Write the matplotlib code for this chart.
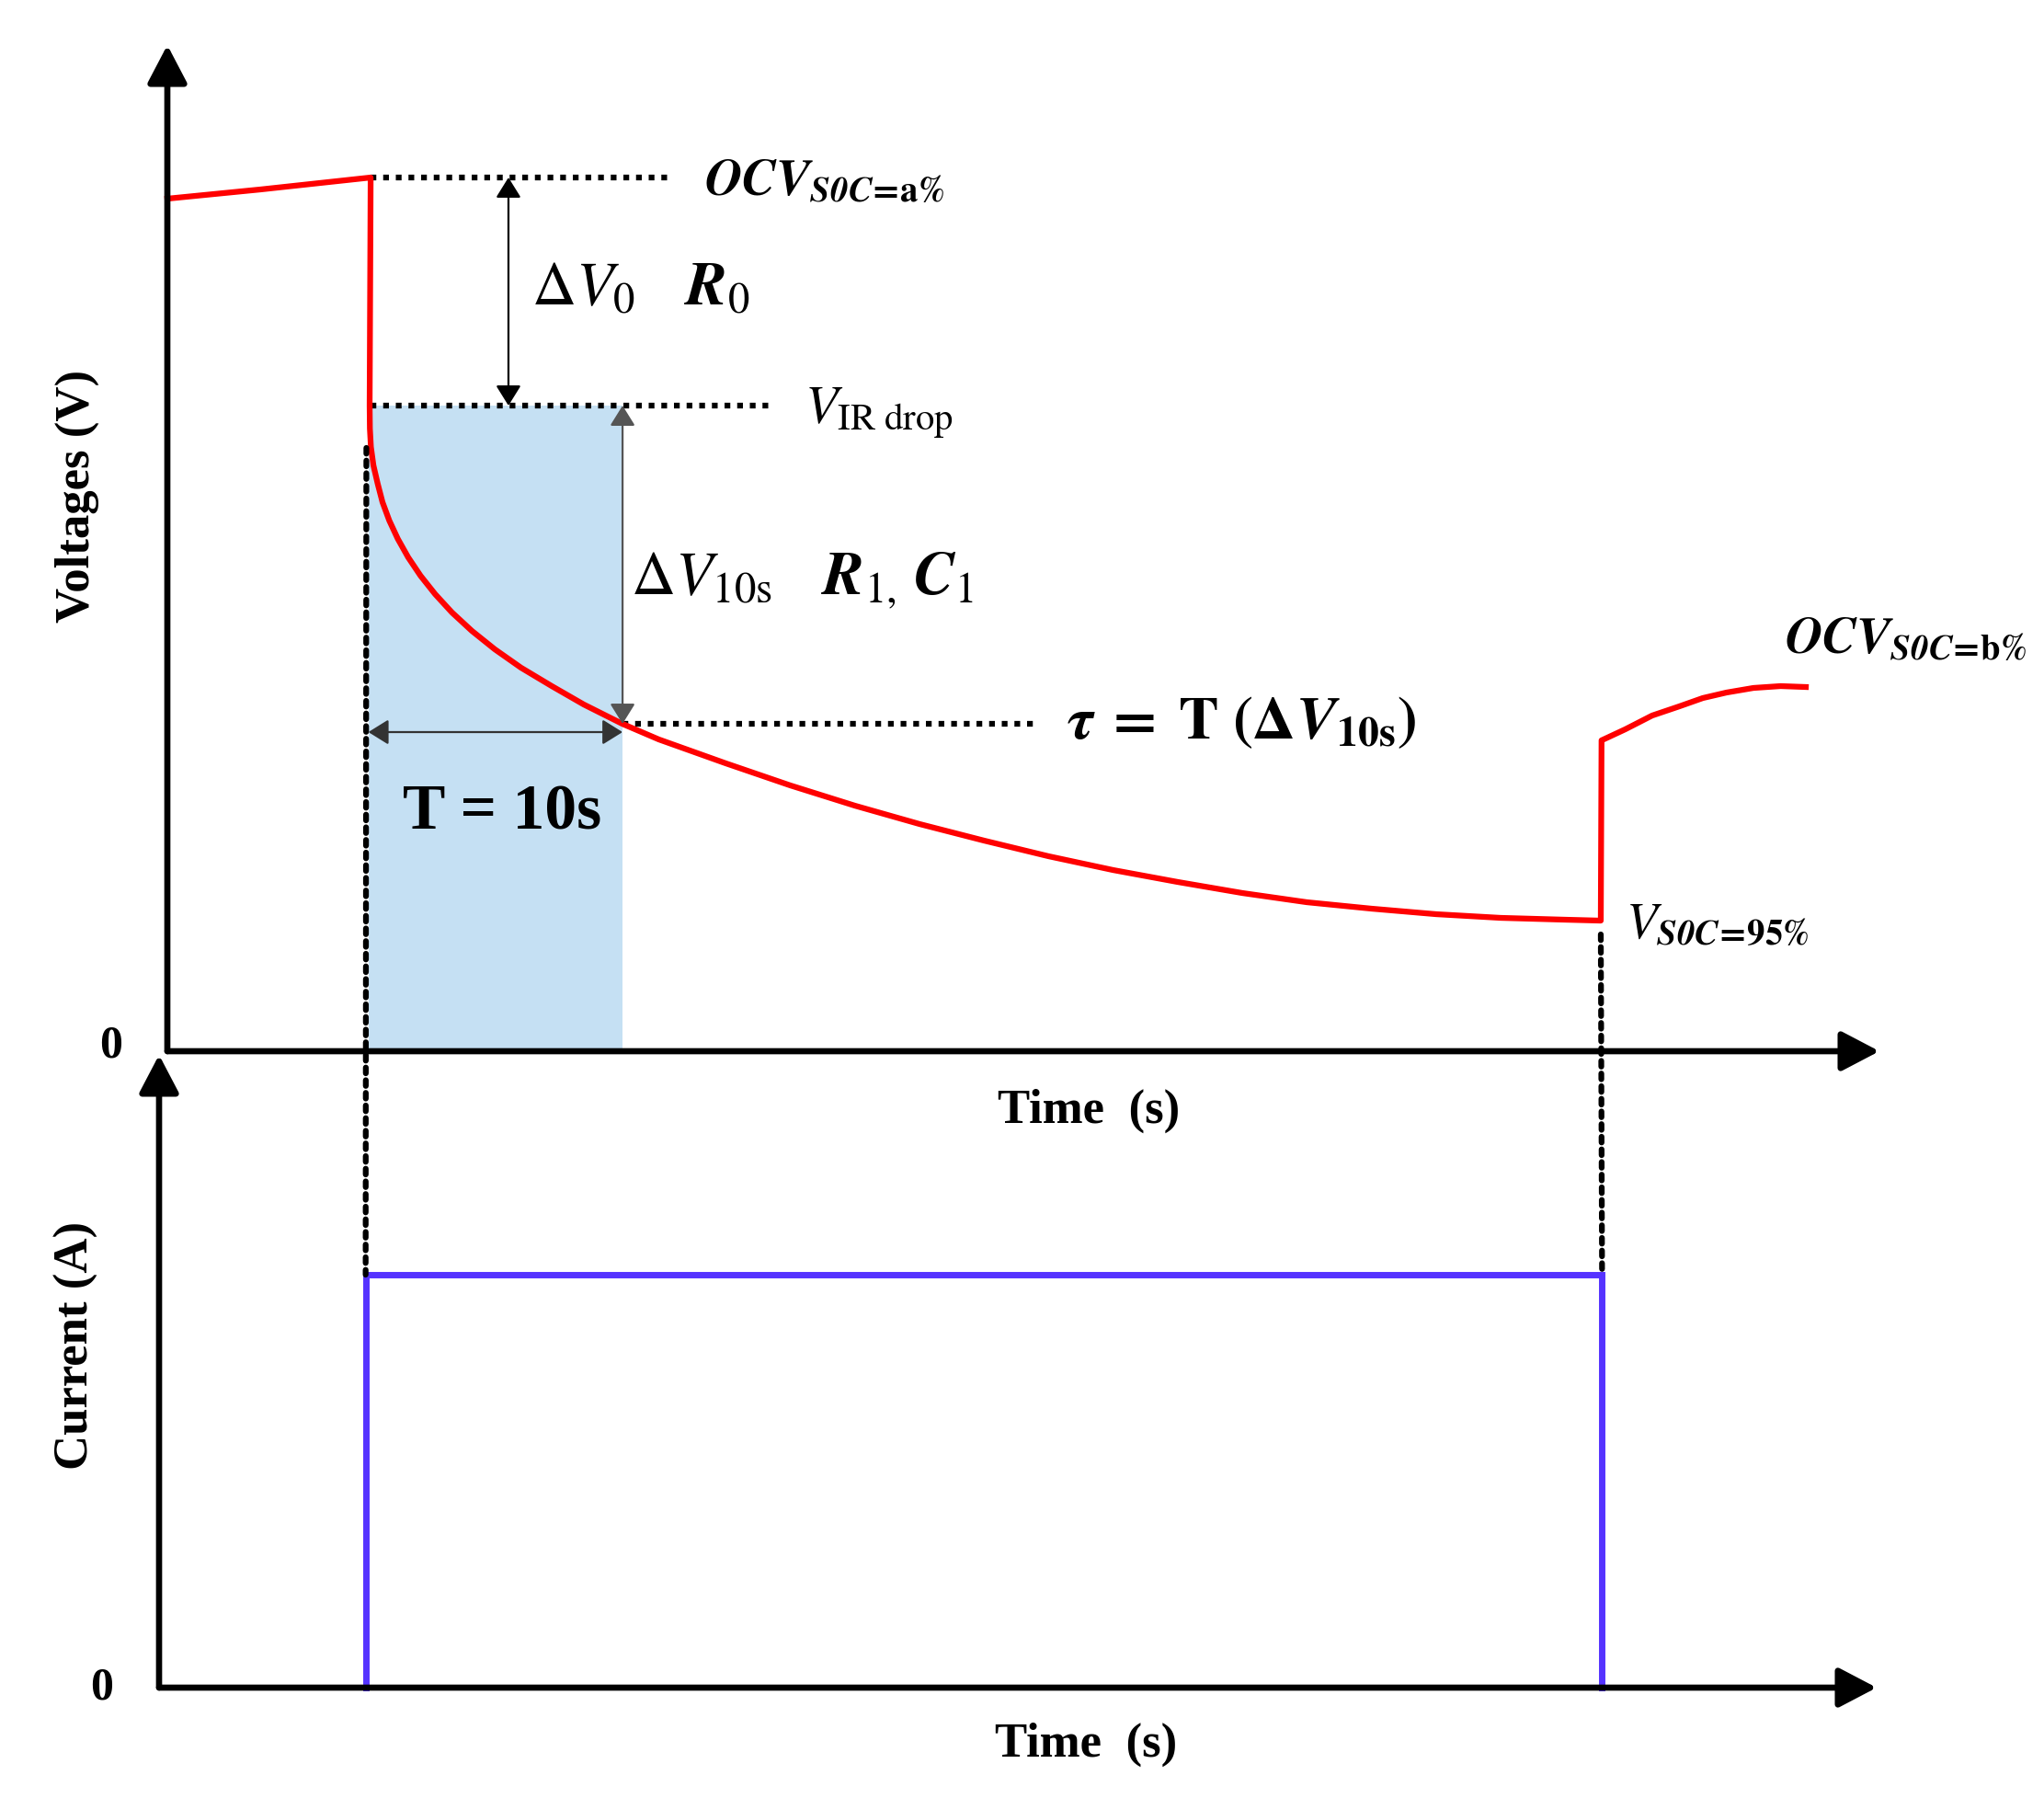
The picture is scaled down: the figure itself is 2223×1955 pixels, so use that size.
import matplotlib.pyplot as plt
from matplotlib.patches import FancyArrowPatch, ConnectionPatch

plt.rcParams['font.family'] = ['Liberation Serif', 'DejaVu Serif']
plt.rcParams['mathtext.fontset'] = 'stix'

# voltage response (time in s, voltage in arbitrary units)
volt_t = [0.0, 3.69, 8.07,
          8.03, 8.04, 8.08, 8.18, 8.35, 8.54, 8.81, 9.15, 9.56, 10.05, 10.63, 11.30,
          12.09, 13.00, 14.04, 15.26, 16.53, 18.06, 19.51, 22.17, 24.73, 27.29, 29.86,
          32.42, 34.98, 37.54, 40.11, 42.67, 45.23, 47.80, 50.36, 52.92, 55.49, 56.90,
          56.93, 57.87, 58.94, 60.02, 60.95, 61.89, 62.96, 64.04, 65.04]
volt_v = [9.27, 9.37, 9.50,
          7.02, 6.77, 6.57, 6.37, 6.17, 5.97, 5.77, 5.57, 5.37, 5.17, 4.97, 4.77,
          4.57, 4.37, 4.17, 3.97, 3.77, 3.56, 3.39, 3.13, 2.89, 2.67, 2.47,
          2.29, 2.12, 1.97, 1.84, 1.72, 1.62, 1.55, 1.49, 1.45, 1.43, 1.42,
          3.38, 3.50, 3.65, 3.75, 3.84, 3.90, 3.95, 3.97, 3.96]

# current pulse
cur_t = [8.2, 8.2, 57.28, 57.28]
cur_i = [0.0, 4.49, 4.49, 0.0]

# key levels / instants
t_on = 8.07
t_10s = 18.07
v_ocv_a = 9.50
v_ir = 7.02
v_10s = 3.56

RED = '#ff0000'
BLUE = '#5533ff'
SHADE = '#c5e0f3'
DOT = (0, (1, 1.2))

fig = plt.figure(figsize=(22.23, 19.56), dpi=100)
ax_v = fig.add_axes([0.08187, 0.41513, 0.83761, 0.55930])
ax_i = fig.add_axes([0.07782, 0.06135, 0.84031, 0.35174])

ax_v.set_xlim(0, 67.96)
ax_v.set_ylim(0, 10.94)
ax_i.set_xlim(0, 68.18)
ax_i.set_ylim(0, 6.88)


def axis_arrows(ax):
    for end in [(1, 0), (0, 1)]:
        ax.add_patch(FancyArrowPatch((0, 0), end, transform=ax.transAxes,
                                     arrowstyle='-|>,head_length=0.42,head_width=0.22',
                                     mutation_scale=60, lw=4.8, color='k',
                                     shrinkA=0, shrinkB=0, clip_on=False, zorder=6))
    ax.axis('off')


axis_arrows(ax_v)
axis_arrows(ax_i)

# shaded 10 s window
ax_v.fill_between([7.98, t_10s], 0, v_ir, color=SHADE, lw=0, zorder=1)

# traces
ax_v.plot(volt_t, volt_v, color=RED, lw=4.5, solid_joinstyle='round', clip_on=False, zorder=4)
ax_i.plot(cur_t, cur_i, color=BLUE, lw=5, solid_joinstyle='miter', clip_on=False, zorder=4)

# dotted guide lines
ax_v.plot([t_on, 20.0], [v_ocv_a, v_ocv_a], color='k', lw=4.5, ls=DOT, zorder=3)
ax_v.plot([t_on, 24.14], [v_ir, v_ir], color='k', lw=4.5, ls=DOT, zorder=3)
ax_v.plot([t_10s, 34.4], [v_10s, v_10s], color='k', lw=4.5, ls=DOT, zorder=3)
for (ta, va), tb in [((7.9, 6.56), 8.2), ((56.9, 1.27), 57.28)]:
    fig.add_artist(ConnectionPatch(xyA=(ta, va), coordsA=ax_v.transData,
                                   xyB=(tb, cur_i[1]), coordsB=ax_i.transData,
                                   color='k', lw=4.5, ls=DOT, zorder=3))


def dbl_arrow(ax, p0, p1, color):
    ax.add_patch(FancyArrowPatch(p0, p1, arrowstyle='<|-|>,head_length=0.45,head_width=0.28',
                                 mutation_scale=30, lw=1.6, color=color,
                                 shrinkA=0, shrinkB=0, zorder=5))


dbl_arrow(ax_v, (13.54, v_ocv_a), (13.54, v_ir), 'k')
dbl_arrow(ax_v, (t_10s, v_ir), (t_10s, v_10s), '#555555')
dbl_arrow(ax_v, (7.98, 3.47), (t_10s, 3.47), '#333333')

# annotations
EQ = r'\!\mathbf{=}\!'
ax_v.text(21.3, 9.32, r'$\mathbfit{OCV}_{\mathbfit{S0C}' + EQ + r'\mathbf{a\%}}$', fontsize=40)
ax_v.text(14.45, 8.13, r'$\Delta V_0$', fontsize=48)
ax_v.text(20.5, 8.13, r'$\mathbfit{R}_0$', fontsize=48)
ax_v.text(25.3, 6.84, r'$V_{\mathrm{IR\ drop}}$', fontsize=42)
ax_v.text(18.4, 4.98, r'$\Delta V_{10\mathrm{s}}$', fontsize=48)
ax_v.text(25.95, 4.98, r'$\mathbfit{R}_{1,}\,\mathbfit{C}_1$', fontsize=48)
ax_v.text(35.7, 3.41,
          r'$\boldsymbol{\tau}\;\mathbf{=}\;\mathbf{T\ (\Delta}\mathbfit{V}_{\mathbf{10s}}\mathbf{)}$',
          fontsize=47)
ax_v.text(13.3, 2.43, 'T = 10s', fontsize=50, fontweight='bold', ha='center')
ax_v.text(57.9, 1.24, r'$V_{\mathbfit{S0C}' + EQ + r'\mathbf{95\%}}$', fontsize=40)
ax_v.text(64.2, 4.34, r'$\mathbfit{OCV}_{\mathbfit{S0C}' + EQ + r'\mathbf{b\%}}$', fontsize=40)

ax_v.text(-2.24, 0.07, '0', fontsize=36, fontweight='bold', ha='center', va='center')
ax_i.text(-2.28, 0.0, '0', fontsize=36, fontweight='bold', ha='center', va='center')

fig.text(0.0375, 0.7244, 'Voltages (V)', rotation=90, fontsize=38, fontweight='bold',
         ha='center', va='center')
fig.text(0.0375, 0.252, 'Current (A)', rotation=90, fontsize=38, fontweight='bold',
         ha='center', va='center')
fig.text(0.5326, 0.3824, 'Time  (s)', fontsize=38, fontweight='bold', ha='center', va='center')
fig.text(0.5313, 0.0302, 'Time  (s)', fontsize=38, fontweight='bold', ha='center', va='center')

fig.savefig('out.png', dpi=100, facecolor='white')
